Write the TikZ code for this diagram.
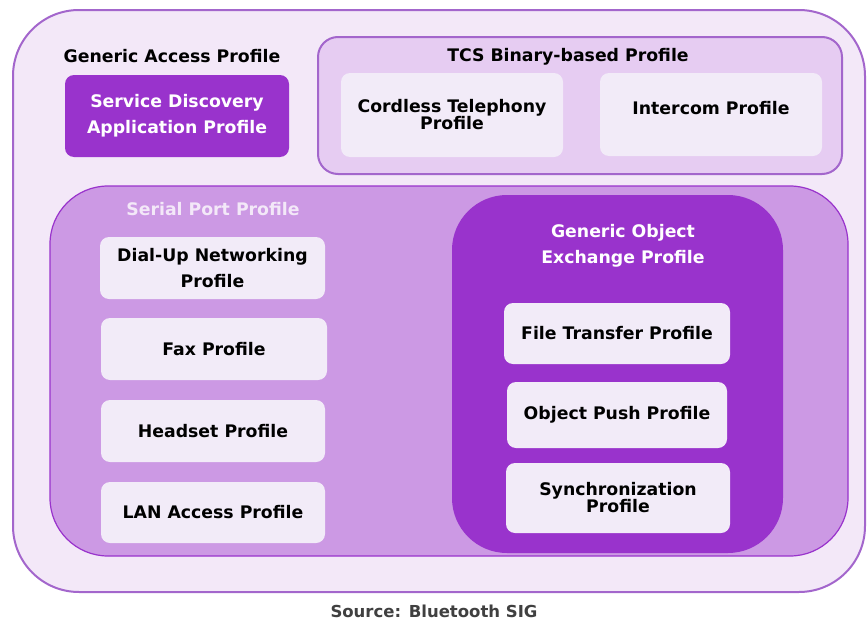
\documentclass[tikz,border=0pt]{standalone}
\usepackage{fontspec}
\setmainfont{DejaVu Sans}
\usetikzlibrary{positioning}
\definecolor{edge}{HTML}{A366CC}
\definecolor{paleback}{HTML}{F3E8F8}
\definecolor{tcsfill}{HTML}{E6CCF2}
\definecolor{sppfill}{HTML}{CC99E4}
\definecolor{deep}{HTML}{9933CC}
\definecolor{card}{HTML}{F2EBF8}
\tikzstyle{gapbox}=[draw=edge,line width=2pt,fill=paleback,rounded corners=66pt]
\tikzstyle{tcsbox}=[draw=edge,line width=2pt,fill=tcsfill,rounded corners=20pt]
\tikzstyle{sppbox}=[draw=deep,line width=1.2pt,fill=sppfill,rounded corners=58pt]
\tikzstyle{goepbox}=[fill=deep,rounded corners=55pt]
\tikzstyle{card}=[fill=card,rounded corners=9pt,align=center,
  font=\bfseries\fontsize{17.3}{26}\selectfont]
\tikzstyle{tight}=[font=\bfseries\fontsize{17.3}{17}\selectfont]
\tikzstyle{title}=[align=center,font=\bfseries\fontsize{17.3}{26}\selectfont]

\begin{document}
\begin{tikzpicture}[x=1pt,y=-1pt]
  \useasboundingbox (0,0) rectangle (868,621);
  % containers
  \node [gapbox,minimum width=852pt,minimum height=582pt] (gap) at (439,301) {};
  \node [tcsbox,minimum width=524pt,minimum height=137pt] (tcs) at (580,105.5) {};
  \node [sppbox,minimum width=798pt,minimum height=370pt] (spp) at (449,371) {};
  \node [goepbox,minimum width=331pt,minimum height=358pt] (goep) at (617.5,374) {};
  % titles
  \node [title] (gaptitle) at (172,56) {Generic Access Profile};
  \node [title] (tcstitle) at (568,57) {TCS Binary-based Profile};
  \node [title,text=paleback] (spptitle) at (213,209) {Serial Port Profile};
  \node [title,text=white] (goeptitle) at (623,246) {Generic Object\\Exchange Profile};
  % profiles
  \node [card,fill=deep,text=white,minimum width=224pt,minimum height=82pt] (sdap) at (177,116) {Service Discovery\\Application Profile};
  \node [card,tight,minimum width=222pt,minimum height=84pt] (ctp) at (452,115) {Cordless Telephony\\Profile};
  \node [card,minimum width=222pt,minimum height=83pt,text depth=14pt] (icp) at (711,114.5) {Intercom Profile};
  \node [card,minimum width=225pt,minimum height=62pt] (dun) at (212.5,268) {Dial-Up Networking\\Profile};
  \node [card,minimum width=226pt,minimum height=62pt] (fax) at (214,349) {Fax Profile};
  \node [card,minimum width=224pt,minimum height=62pt] (hsp) at (213,431) {Headset Profile};
  \node [card,minimum width=224pt,minimum height=61pt] (lan) at (213,512.5) {LAN Access Profile};
  \node [card,minimum width=226pt,minimum height=61pt] (ftp) at (617,333.5) {File Transfer Profile};
  \node [card,minimum width=220pt,minimum height=66pt] (opp) at (617,415) {Object Push Profile};
  \node [card,tight,minimum width=224pt,minimum height=70pt] (sync) at (618,498) {Synchronization\\Profile};
  % source line
  \node [font=\bfseries\fontsize{16.5}{18}\selectfont,text=black!75] (src) at (434,611) {Source: Bluetooth SIG};
\end{tikzpicture}
\end{document}
